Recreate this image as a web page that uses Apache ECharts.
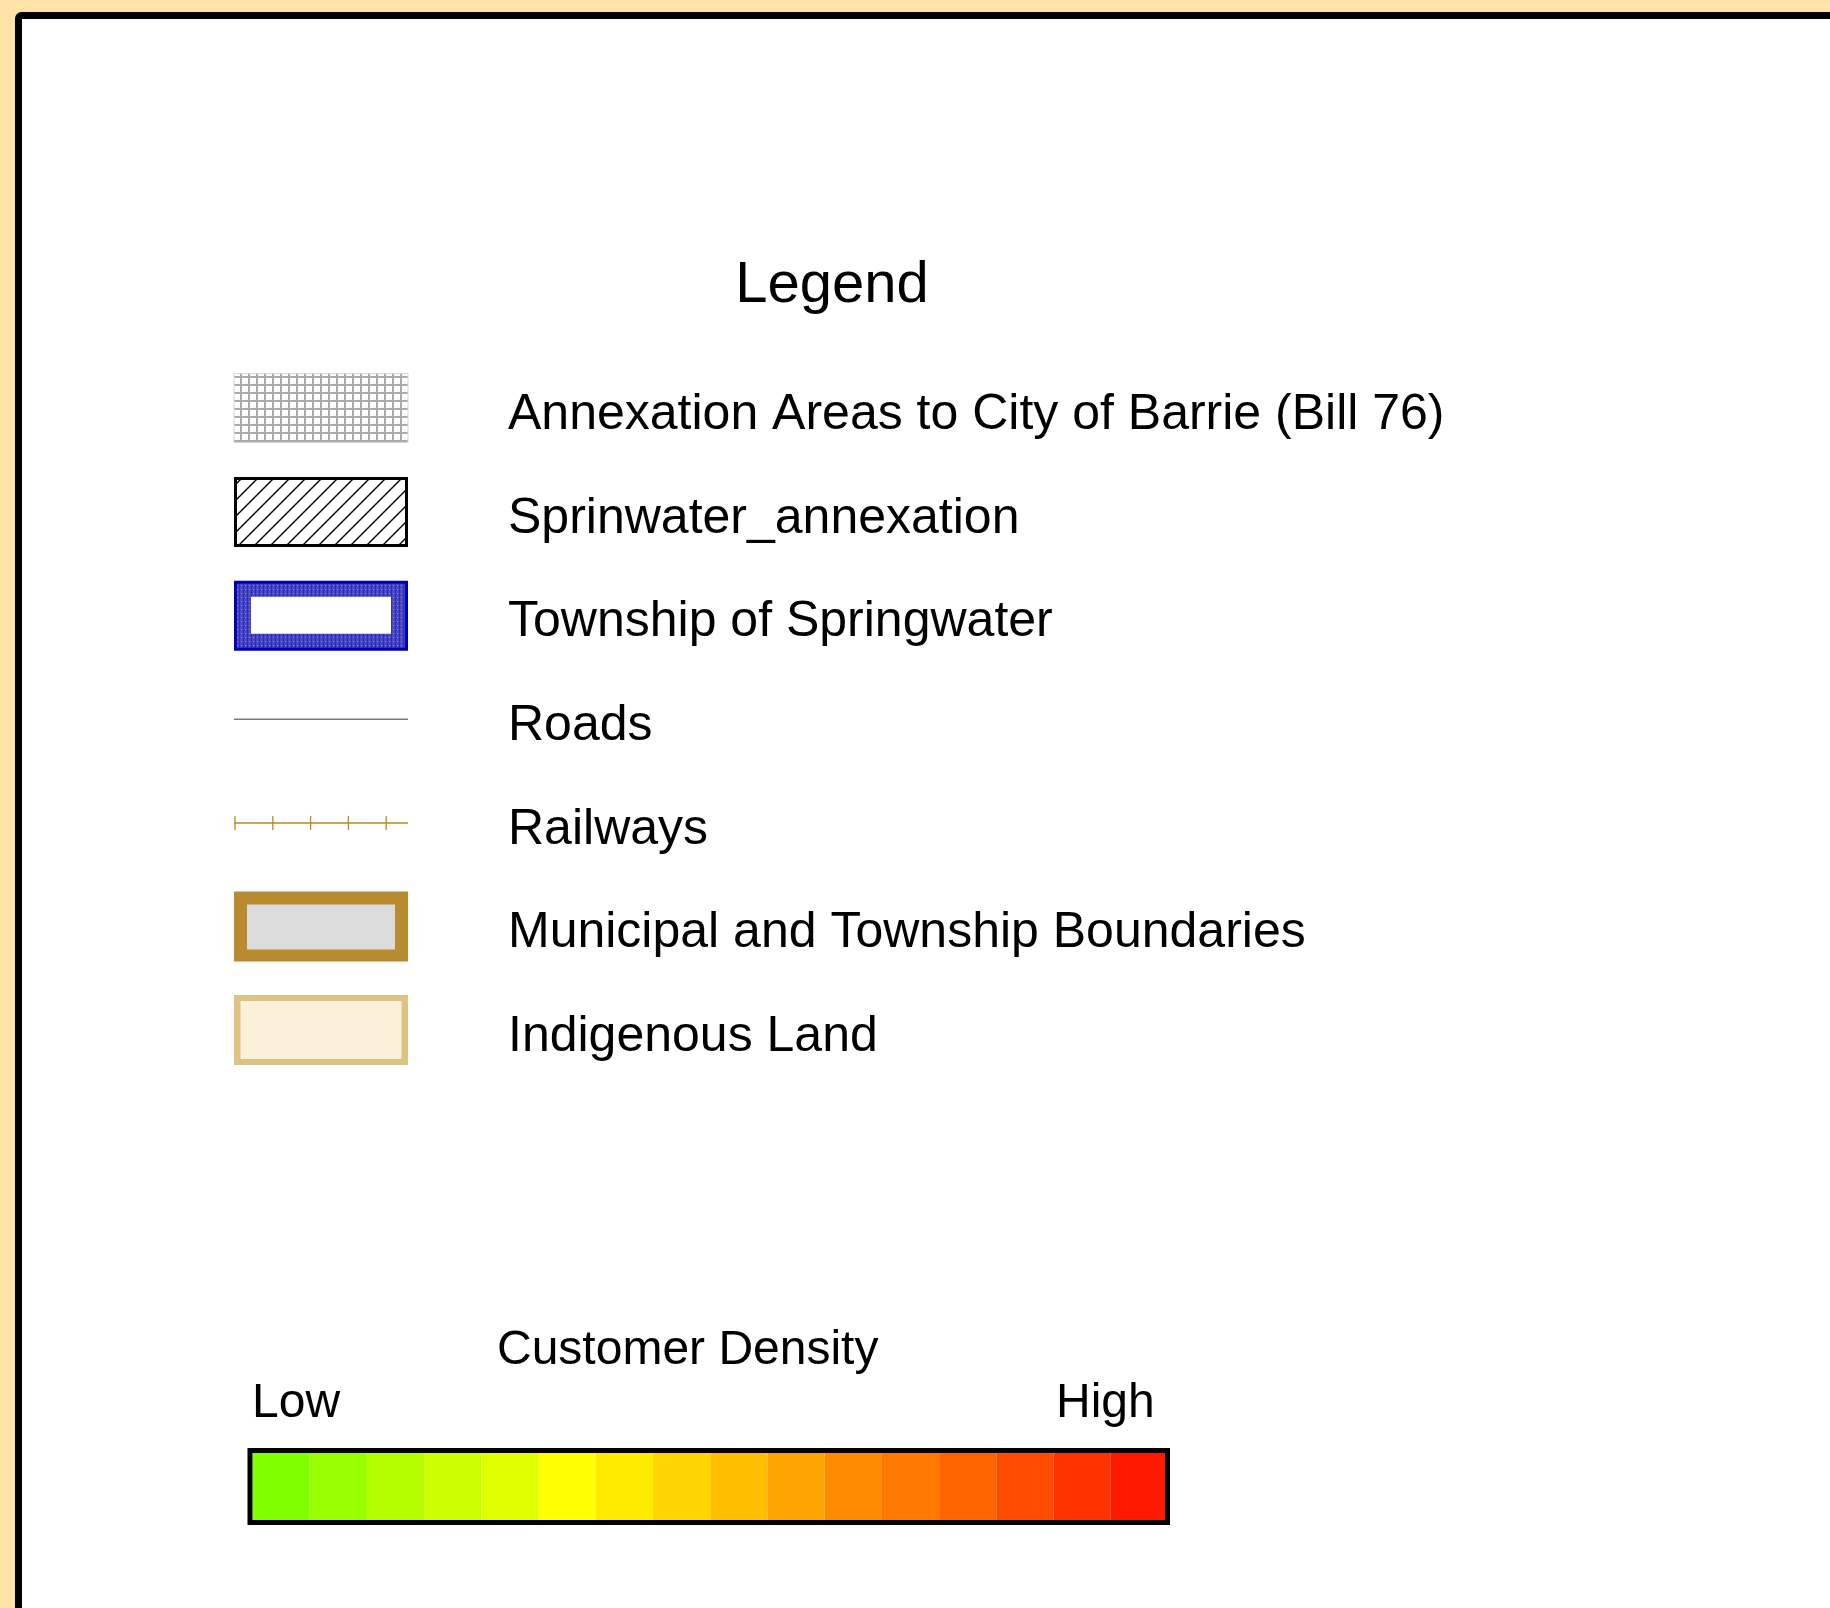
<!DOCTYPE html>
<html>
<head>
<meta charset="utf-8">
<script src="https://cdn.jsdelivr.net/npm/echarts@6/dist/echarts.min.js"></script>
<style>
  html, body { margin: 0; padding: 0; background: #FFE3A6; }
  #legend-chart { width: 1830px; height: 1608px; }
</style>
</head>
<body>
<div id="legend-chart"></div>
<script>
// legend entries, top to bottom
let legendLabels = [
    'Annexation Areas to City of Barrie (Bill 76)',
    'Sprinwater_annexation',
    'Township of Springwater',
    'Roads',
    'Railways',
    'Municipal and Township Boundaries',
    'Indigenous Land'
]
let legendKinds = ['grid', 'hatch', 'township', 'road', 'rail', 'boundary', 'indigenous']

// customer density ramp, low -> high
let densitySteps = ['1','2','3','4','5','6','7','8','9','10','11','12','13','14','15','16']
let densityColors = [
    '#80FF00', '#99FF00', '#B3FF00', '#CCFF00', '#E2FF00', '#FFFF00', '#FFEB00', '#FFD400',
    '#FFBE00', '#FFA500', '#FF8C00', '#FF7800', '#FF6400', '#FF4B00', '#FF3200', '#FF1900'
]
let densityTitle = 'Customer Density'
let densityEnds = ['Low', 'High']

let chart = echarts.init(document.getElementById('legend-chart'))

// small canvas tiles used as fill patterns
function tile(size, draw) {
    let c = document.createElement('canvas')
    c.width = size
    c.height = size
    draw(c.getContext('2d'), size)
    return { image: c, repeat: 'repeat' }
}

let gridPattern = tile(8, function (ctx, s) {
    ctx.fillStyle = '#ffffff'
    ctx.fillRect(0, 0, s, s)
    ctx.fillStyle = '#ABABAB'
    ctx.fillRect(0, 0, s, 2)
    ctx.fillRect(0, 0, 2, s)
})

let hatchPattern = tile(16, function (ctx, s) {
    ctx.fillStyle = '#ffffff'
    ctx.fillRect(0, 0, s, s)
    ctx.strokeStyle = '#000000'
    ctx.lineWidth = 1.4
    for (let k = -1; k <= 1; k++) {
        ctx.beginPath()
        ctx.moveTo(k * s - 1, s + 1)
        ctx.lineTo(k * s + s + 1, -1)
        ctx.stroke()
    }
})

let bluePattern = tile(4, function (ctx, s) {
    ctx.fillStyle = '#4646C4'
    ctx.fillRect(0, 0, s, s)
    ctx.fillStyle = '#8A8AE2'
    ctx.fillRect(1, 1, 1, 1)
    ctx.fillStyle = '#2E2EB8'
    ctx.fillRect(3, 0, 1, s)
})

let font = '"Liberation Sans", Arial, sans-serif'
let swLeft = 234, swWidth = 174
let rowTop = 408.5, rowGap = 103.6

function swatch(kind, cy) {
    let top = cy - 35
    if (kind == 'grid') {
        return [{ type: 'rect', shape: { x: swLeft, y: top, width: swWidth, height: 69 },
                  style: { fill: gridPattern, stroke: '#D6D6D6', lineWidth: 1 } }]
    } else if (kind == 'hatch') {
        return [{ type: 'rect', shape: { x: swLeft + 1.5, y: top + 1.5, width: swWidth - 3, height: 67 },
                  style: { fill: hatchPattern, stroke: '#000', lineWidth: 3 } }]
    } else if (kind == 'township') {
        return [
            { type: 'rect', shape: { x: swLeft + 1.5, y: top + 1.5, width: swWidth - 3, height: 67 },
              style: { fill: bluePattern, stroke: '#0000B4', lineWidth: 3 } },
            { type: 'rect', shape: { x: 251, y: top + 16, width: 140, height: 37 }, style: { fill: '#fff' } }
        ]
    } else if (kind == 'road') {
        return [{ type: 'line', shape: { x1: swLeft, y1: cy, x2: swLeft + swWidth, y2: cy },
                  style: { stroke: '#7C7C7C', lineWidth: 1.5 } }]
    } else if (kind == 'rail') {
        let els = [{ type: 'line', shape: { x1: swLeft, y1: cy, x2: swLeft + swWidth, y2: cy },
                     style: { stroke: '#CCA655', lineWidth: 2 } }]
        for (let k = 0; k < 5; k++) {
            let tx = 235 + k * 37.8
            els.push({ type: 'line', shape: { x1: tx, y1: cy - 7, x2: tx, y2: cy + 7 },
                       style: { stroke: '#BB8A1E', lineWidth: 1.3 } })
        }
        return els
    } else if (kind == 'boundary') {
        return [
            { type: 'rect', shape: { x: swLeft, y: top, width: swWidth, height: 70 }, style: { fill: '#B78B2E' } },
            { type: 'rect', shape: { x: 247, y: top + 13, width: 148, height: 45 }, style: { fill: '#DBDBDB' } }
        ]
    } else {
        return [
            { type: 'rect', shape: { x: swLeft, y: top, width: swWidth, height: 70 }, style: { fill: '#DCC283' } },
            { type: 'rect', shape: { x: 240.5, y: top + 6, width: 161, height: 58 }, style: { fill: '#FBF0D8' } }
        ]
    }
}

let graphics = [
    // white panel with the thick black frame
    { type: 'rect', z: -10, shape: { x: 18.5, y: 15.5, width: 1900, height: 1700, r: 3 },
      style: { fill: '#fff', stroke: '#000', lineWidth: 7 } },
    { type: 'text', x: 832, y: 286, style: { text: 'Legend', font: '58px ' + font, fill: '#000',
      align: 'center', verticalAlign: 'middle' } }
]

legendLabels.forEach(function (label, i) {
    let cy = rowTop + rowGap * i
    swatch(legendKinds[i], cy).forEach(function (el) { graphics.push(el) })
    graphics.push({ type: 'text', x: 508, y: cy + 7,
        style: { text: label, font: '50px ' + font, fill: '#000', align: 'left', verticalAlign: 'middle' } })
})

graphics.push(
    { type: 'text', x: 497, y: 1351, style: { text: densityTitle, font: '48px ' + font, fill: '#000',
      align: 'left', verticalAlign: 'middle' } },
    { type: 'text', x: 252, y: 1404, style: { text: densityEnds[0], font: '48px ' + font, fill: '#000',
      align: 'left', verticalAlign: 'middle' } },
    { type: 'text', x: 1056, y: 1404, style: { text: densityEnds[1], font: '48px ' + font, fill: '#000',
      align: 'left', verticalAlign: 'middle' } },
    // black outline round the colour ramp
    { type: 'rect', z: 100, shape: { x: 250, y: 1450.5, width: 917.5, height: 72 },
      style: { fill: 'none', stroke: '#000', lineWidth: 5 } }
)

chart.setOption({
    backgroundColor: '#FFE3A6',
    animation: false,
    grid: { left: 252.5, top: 1452, width: 915.5, height: 70 },
    xAxis: { type: 'category', data: densitySteps, show: false },
    yAxis: { type: 'value', min: 0, max: 1, show: false },
    series: [
        {
            type: 'bar',
            silent: true,
            barWidth: '100%',
            barCategoryGap: 0,
            data: densityColors.map(function (c) { return { value: 1, itemStyle: { color: c } } })
        }
    ],
    graphic: graphics
})
</script>
</body>
</html>
